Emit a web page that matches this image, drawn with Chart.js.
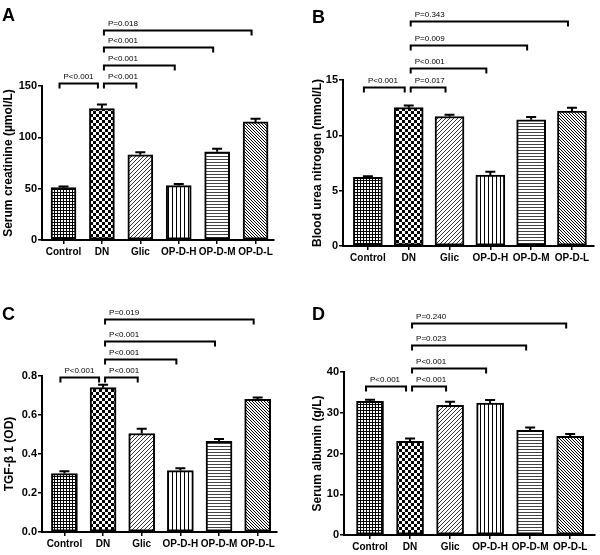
<!DOCTYPE html>
<html>
<head>
<meta charset="utf-8">
<script src="https://cdn.jsdelivr.net/npm/chart.js@4.4.1/dist/chart.umd.min.js"></script>
<style>
body { margin: 0; background: #fff; }
#fig { position: relative; width: 600px; height: 555px; }
#fig canvas { position: absolute; }
.tag { position: absolute; font: bold 18px 'Liberation Sans', Arial, sans-serif; line-height: 18px; }
</style>
</head>
<body>
<div id="fig">
  <canvas id="chartA" width="300" height="278" style="left:0;top:0"></canvas>
  <canvas id="chartB" width="300" height="278" style="left:300px;top:0"></canvas>
  <canvas id="chartC" width="300" height="277" style="left:0;top:278px"></canvas>
  <canvas id="chartD" width="300" height="277" style="left:300px;top:278px"></canvas>
  <div class="tag" style="left:2px;top:6px">A</div>
  <div class="tag" style="left:312px;top:8px">B</div>
  <div class="tag" style="left:2px;top:305px">C</div>
  <div class="tag" style="left:312px;top:305px">D</div>
</div>
<script>
// groups on the x axis
const groups = ['Control', 'DN', 'Glic', 'OP-D-H', 'OP-D-M', 'OP-D-L'];

// A - serum creatinine
const creatinine = [51, 128, 83, 53, 86, 115];
const creatinineErr = [1, 4, 2.5, 1.5, 3, 3];
const creatinineTicks = [0, 50, 100, 150];
const creatinineP = ['P<0.001', 'P<0.001', 'P<0.001', 'P<0.001', 'P=0.018'];

// B - blood urea nitrogen
const bun = [6.2, 12.5, 11.7, 6.4, 11.4, 12.2];
const bunErr = [0.1, 0.2, 0.15, 0.3, 0.25, 0.3];
const bunTicks = [0, 5, 10, 15];
const bunP = ['P<0.001', 'P=0.017', 'P<0.001', 'P=0.009', 'P=0.343'];

// C - TGF-b1
const tgf = [0.30, 0.74, 0.505, 0.315, 0.465, 0.68];
const tgfErr = [0.012, 0.015, 0.025, 0.012, 0.012, 0.01];
const tgfTicks = [0, 0.2, 0.4, 0.6, 0.8];
const tgfP = ['P<0.001', 'P<0.001', 'P<0.001', 'P<0.001', 'P=0.019'];

// D - serum albumin
const albumin = [32.8, 23.0, 31.8, 32.4, 25.7, 24.2];
const albuminErr = [0.4, 0.7, 0.9, 0.7, 0.7, 0.6];
const albuminTicks = [0, 10, 20, 30, 40];
const albuminP = ['P<0.001', 'P<0.001', 'P<0.001', 'P=0.023', 'P=0.240'];

// which groups each bracket joins (same for all panels)
const comparisons = [[0, 1], [1, 2], [1, 3], [1, 4], [1, 5]];

Chart.defaults.font.family = "'Liberation Sans', Arial, sans-serif";
Chart.defaults.color = '#000';

// fill patterns for the bars
function tile(size, draw) {
    const c = document.createElement('canvas');
    c.width = c.height = size;
    const g = c.getContext('2d');
    g.fillStyle = '#fff';
    g.fillRect(0, 0, size, size);
    g.fillStyle = '#000';
    draw(g);
    return g.createPattern(c, 'repeat');
}
function makePatterns() {
    return [
        tile(3, g => { g.fillRect(0, 0, 3, 1); g.fillRect(0, 0, 1, 3); }),
        tile(6, g => { g.fillRect(0, 0, 3, 3); g.fillRect(3, 3, 3, 3); }),
        tile(4, g => { g.fillStyle = '#333'; g.fillRect(0, 3, 1, 1); g.fillRect(1, 2, 1, 1); g.fillRect(2, 1, 1, 1); g.fillRect(3, 0, 1, 1); }),
        tile(4, g => { g.fillRect(0, 0, 1, 4); }),
        tile(3, g => { g.fillStyle = '#444'; g.fillRect(0, 0, 3, 1); }),
        tile(3, g => { g.fillRect(0, 0, 1, 1); g.fillRect(1, 1, 1, 1); g.fillRect(2, 2, 1, 1); })
    ];
}

// upper error bars + significance brackets
const extras = {
    id: 'extras',
    afterDatasetsDraw(chart, args, opts) {
        const c = chart.ctx;
        const xs = chart.scales.x, ys = chart.scales.y;
        const meta = chart.getDatasetMeta(0);
        c.save();
        c.strokeStyle = '#000';
        c.lineWidth = 2;
        meta.data.forEach((bar, i) => {
            const v = opts.values[i], e = opts.errors[i];
            const yTop = ys.getPixelForValue(v + e);
            c.beginPath();
            c.moveTo(bar.x, bar.y);
            c.lineTo(bar.x, yTop);
            c.moveTo(bar.x - 5, yTop);
            c.lineTo(bar.x + 5, yTop);
            c.stroke();
        });
        c.font = "8px 'Liberation Sans', Arial, sans-serif";
        c.fillStyle = '#000';
        c.textBaseline = 'alphabetic';
        comparisons.forEach(([a, b], k) => {
            const y = Math.round(ys.getPixelForValue(opts.bracketY[k])) + 0.5;
            const x1 = xs.getPixelForValue(a) + (a === 1 ? 2 : -4);
            const x2 = xs.getPixelForValue(b) - 4;
            c.beginPath();
            c.moveTo(x1, y + 5);
            c.lineTo(x1, y);
            c.lineTo(x2, y);
            c.lineTo(x2, y + 5);
            c.stroke();
            c.fillText(opts.pLabels[k], x1 + 4, y - 5);
        });
        c.restore();
    }
};

function makePanel(p) {
    const canvas = document.getElementById(p.id);
    const W = canvas.width, H = canvas.height;
    const xAxisHeight = 18;
    return new Chart(canvas.getContext('2d'), {
        type: 'bar',
        data: {
            datasets: [{
                data: groups.map((g, i) => ({ x: i, y: p.values[i] })),
                backgroundColor: makePatterns(),
                borderColor: '#000',
                borderWidth: 2,
                borderSkipped: false,
                barThickness: p.barWidth
            }]
        },
        options: {
            responsive: false,
            animation: false,
            events: [],
            layout: { padding: { left: 0, top: p.box.top, right: W - p.box.right, bottom: H - p.box.bottom - xAxisHeight } },
            scales: {
                x: {
                    type: 'linear',
                    offset: false,
                    min: p.xRange[0],
                    max: p.xRange[1],
                    afterBuildTicks: s => { s.ticks = groups.map((g, i) => ({ value: i })); },
                    afterFit: s => { s.height = xAxisHeight; },
                    ticks: {
                        callback: v => groups[v],
                        font: { size: 10, weight: 'bold' },
                        padding: 2,
                        maxRotation: 0,
                        autoSkip: false
                    },
                    grid: { display: true, offset: false, drawOnChartArea: false, drawTicks: true, tickLength: 4, color: '#000', lineWidth: 1.5 },
                    border: { display: true, color: '#000', width: 2 }
                },
                y: {
                    min: 0,
                    max: p.ticks[p.ticks.length - 1],
                    afterBuildTicks: s => { s.ticks = p.ticks.map(v => ({ value: v })); },
                    afterFit: s => { s.width = p.box.left; },
                    ticks: {
                        callback: p.tickFmt,
                        font: { size: 11, weight: 'bold' },
                        padding: 1
                    },
                    grid: { display: true, drawOnChartArea: false, drawTicks: true, tickLength: 4, color: '#000', lineWidth: 1.5 },
                    border: { display: true, color: '#000', width: 2 },
                    title: {
                        display: true,
                        text: p.title,
                        font: { size: 12, weight: 'bold' },
                        padding: { top: p.titlePad, bottom: 0 }
                    }
                }
            },
            plugins: {
                legend: { display: false },
                tooltip: { enabled: false },
                extras: { values: p.values, errors: p.errors, pLabels: p.pLabels, bracketY: p.bracketY }
            }
        },
        plugins: [extras]
    });
}

const intFmt = v => String(v);

makePanel({ id: 'chartA', values: creatinine, errors: creatinineErr, ticks: creatinineTicks, pLabels: creatinineP,
    title: 'Serum creatinine (µmol/L)', tickFmt: intFmt,
    box: { left: 42, top: 86, right: 274, bottom: 240 }, xRange: [-0.56, 5.48], barWidth: 25, titlePad: 1,
    bracketY: [153, 153, 170, 188, 205] });

makePanel({ id: 'chartB', values: bun, errors: bunErr, ticks: bunTicks, pLabels: bunP,
    title: 'Blood urea nitrogen (mmol/L)', tickFmt: intFmt,
    box: { left: 43, top: 80, right: 294, bottom: 246 }, xRange: [-0.61, 5.54], barWidth: 29, titlePad: 10,
    bracketY: [14.4, 14.4, 16.1, 18.2, 20.35] });

makePanel({ id: 'chartC', values: tgf, errors: tgfErr, ticks: tgfTicks, pLabels: tgfP,
    title: 'TGF-β 1 (OD)', tickFmt: v => v.toFixed(1),
    box: { left: 42, top: 98, right: 277, bottom: 254 }, xRange: [-0.58, 5.5], barWidth: 26, titlePad: 2,
    bracketY: [0.795, 0.795, 0.885, 0.979, 1.09] });

makePanel({ id: 'chartD', values: albumin, errors: albuminErr, ticks: albuminTicks, pLabels: albuminP,
    title: 'Serum albumin (g/L)', tickFmt: intFmt,
    box: { left: 44, top: 94, right: 295, bottom: 257 }, xRange: [-0.65, 5.62], barWidth: 27, titlePad: 10,
    bracketY: [36.6, 36.6, 41.1, 46.6, 52.1] });
</script>
</body>
</html>
